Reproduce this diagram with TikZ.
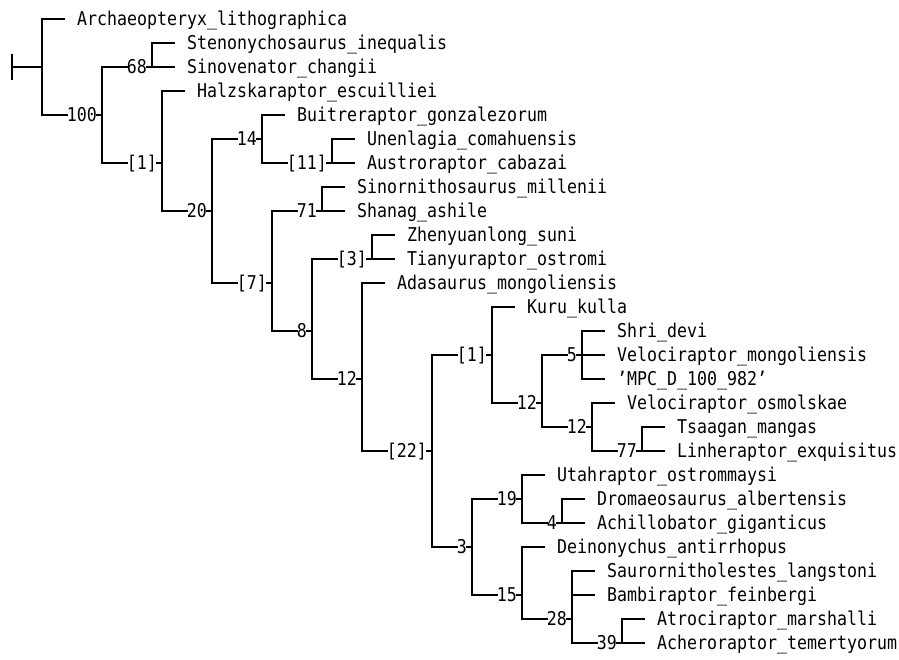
\documentclass[tikz,border=0pt]{standalone}
\usepackage{fontspec}
\newfontfamily\treefont[FakeStretch=0.874]{DejaVu Sans Mono}
\newcommand\inode[4]{%
  \node[lab,anchor=east] (#1) at ({10*#3-3},{19+24*(#4-1)}) {#2};
  \coordinate (#1v) at ({10*#3+2},{19+24*(#4-1)});
  \draw[br] (#1.east) -- (#1v);}
\newcommand\tleaf[4]{%
  \node[lab,anchor=west] (#1) at ({10*#3-3},{19+24*(#4-1)}) {#2};}
\newcommand\lbr[2]{\draw[br] (#1v |- #2.west) -- ([xshift=-13pt]#2.west);}
\newcommand\ibr[2]{\draw[br] (#1v |- #2.west) -- (#2.west);}
\newcommand\vbar[3]{\draw[br] (#1v |- #2.west) -- (#1v |- #3.west);}
\begin{document}
\begin{tikzpicture}[x=1pt,y=-1pt,
  lab/.style={font=\treefont\fontsize{19}{19}\selectfont, inner sep=0pt, text height=13.8pt, text depth=0pt},
  br/.style={line width=1.8pt, line cap=rect}]
\useasboundingbox (0,0) rectangle (899,660);
% nodes
\coordinate (base) at (12,67);
\coordinate (rootv) at (42,67);
\tleaf{l1}{Archaeopteryx\_lithographica}{8}{1}
\inode{n100}{100}{10}{5}
\inode{n68}{68}{15}{3}
\tleaf{l2}{Stenonychosaurus\_inequalis}{19}{2}
\tleaf{l3}{Sinovenator\_changii}{19}{3}
\inode{n1a}{[1]}{16}{7}
\tleaf{l4}{Halzskaraptor\_escuilliei}{20}{4}
\inode{n20}{20}{21}{9}
\inode{n14}{14}{26}{6}
\tleaf{l5}{Buitreraptor\_gonzalezorum}{30}{5}
\inode{n11}{[11]}{33}{7}
\tleaf{l6}{Unenlagia\_comahuensis}{37}{6}
\tleaf{l7}{Austroraptor\_cabazai}{37}{7}
\inode{n7}{[7]}{27}{12}
\inode{n71}{71}{32}{9}
\tleaf{l8}{Sinornithosaurus\_millenii}{36}{8}
\tleaf{l9}{Shanag\_ashile}{36}{9}
\inode{n8}{8}{31}{14}
\inode{n3}{[3]}{37}{11}
\tleaf{l10}{Zhenyuanlong\_suni}{41}{10}
\tleaf{l11}{Tianyuraptor\_ostromi}{41}{11}
\inode{n12a}{12}{36}{16}
\tleaf{l12}{Adasaurus\_mongoliensis}{40}{12}
\inode{n22}{[22]}{43}{19}
\inode{n1b}{[1]}{49}{15}
\tleaf{l13}{Kuru\_kulla}{53}{13}
\inode{n12b}{12}{54}{17}
\inode{n5}{5}{58}{15}
\tleaf{l14}{Shri\_devi}{62}{14}
\tleaf{l15}{Velociraptor\_mongoliensis}{62}{15}
\tleaf{l16}{’MPC\_D\_100\_982’}{62}{16}
\inode{n12c}{12}{59}{18}
\tleaf{l17}{Velociraptor\_osmolskae}{63}{17}
\inode{n77}{77}{64}{19}
\tleaf{l18}{Tsaagan\_mangas}{68}{18}
\tleaf{l19}{Linheraptor\_exquisitus}{68}{19}
\inode{n3b}{3}{47}{23}
\inode{n19}{19}{52}{21}
\tleaf{l20}{Utahraptor\_ostrommaysi}{56}{20}
\inode{n4}{4}{56}{22}
\tleaf{l21}{Dromaeosaurus\_albertensis}{60}{21}
\tleaf{l22}{Achillobator\_giganticus}{60}{22}
\inode{n15}{15}{52}{25}
\tleaf{l23}{Deinonychus\_antirrhopus}{56}{23}
\inode{n28}{28}{57}{26}
\tleaf{l24}{Saurornitholestes\_langstoni}{61}{24}
\tleaf{l25}{Bambiraptor\_feinbergi}{61}{25}
\inode{n39}{39}{62}{27}
\tleaf{l26}{Atrociraptor\_marshalli}{66}{26}
\tleaf{l27}{Acheroraptor\_temertyorum}{66}{27}
% root
\draw[br] (base) -- (rootv);
\draw[br] ([yshift=12pt]base) -- ([yshift=-12pt]base);
\lbr{root}{l1} \ibr{root}{n100} \vbar{root}{l1}{n100}
\ibr{n100}{n68} \ibr{n100}{n1a} \vbar{n100}{n68}{n1a}
\lbr{n68}{l2} \lbr{n68}{l3} \vbar{n68}{l2}{l3}
\lbr{n1a}{l4} \ibr{n1a}{n20} \vbar{n1a}{l4}{n20}
\ibr{n20}{n14} \ibr{n20}{n7} \vbar{n20}{n14}{n7}
\lbr{n14}{l5} \ibr{n14}{n11} \vbar{n14}{l5}{n11}
\lbr{n11}{l6} \lbr{n11}{l7} \vbar{n11}{l6}{l7}
\ibr{n7}{n71} \ibr{n7}{n8} \vbar{n7}{n71}{n8}
\lbr{n71}{l8} \lbr{n71}{l9} \vbar{n71}{l8}{l9}
\ibr{n8}{n3} \ibr{n8}{n12a} \vbar{n8}{n3}{n12a}
\lbr{n3}{l10} \lbr{n3}{l11} \vbar{n3}{l10}{l11}
\lbr{n12a}{l12} \ibr{n12a}{n22} \vbar{n12a}{l12}{n22}
\ibr{n22}{n1b} \ibr{n22}{n3b} \vbar{n22}{n1b}{n3b}
\lbr{n1b}{l13} \ibr{n1b}{n12b} \vbar{n1b}{l13}{n12b}
\ibr{n12b}{n5} \ibr{n12b}{n12c} \vbar{n12b}{n5}{n12c}
\lbr{n5}{l14} \lbr{n5}{l15} \lbr{n5}{l16} \vbar{n5}{l14}{l16}
\lbr{n12c}{l17} \ibr{n12c}{n77} \vbar{n12c}{l17}{n77}
\lbr{n77}{l18} \lbr{n77}{l19} \vbar{n77}{l18}{l19}
\ibr{n3b}{n19} \ibr{n3b}{n15} \vbar{n3b}{n19}{n15}
\lbr{n19}{l20} \ibr{n19}{n4} \vbar{n19}{l20}{n4}
\lbr{n4}{l21} \lbr{n4}{l22} \vbar{n4}{l21}{l22}
\lbr{n15}{l23} \ibr{n15}{n28} \vbar{n15}{l23}{n28}
\lbr{n28}{l24} \lbr{n28}{l25} \ibr{n28}{n39} \vbar{n28}{l24}{n39}
\lbr{n39}{l26} \lbr{n39}{l27} \vbar{n39}{l26}{l27}
\end{tikzpicture}
\end{document}
